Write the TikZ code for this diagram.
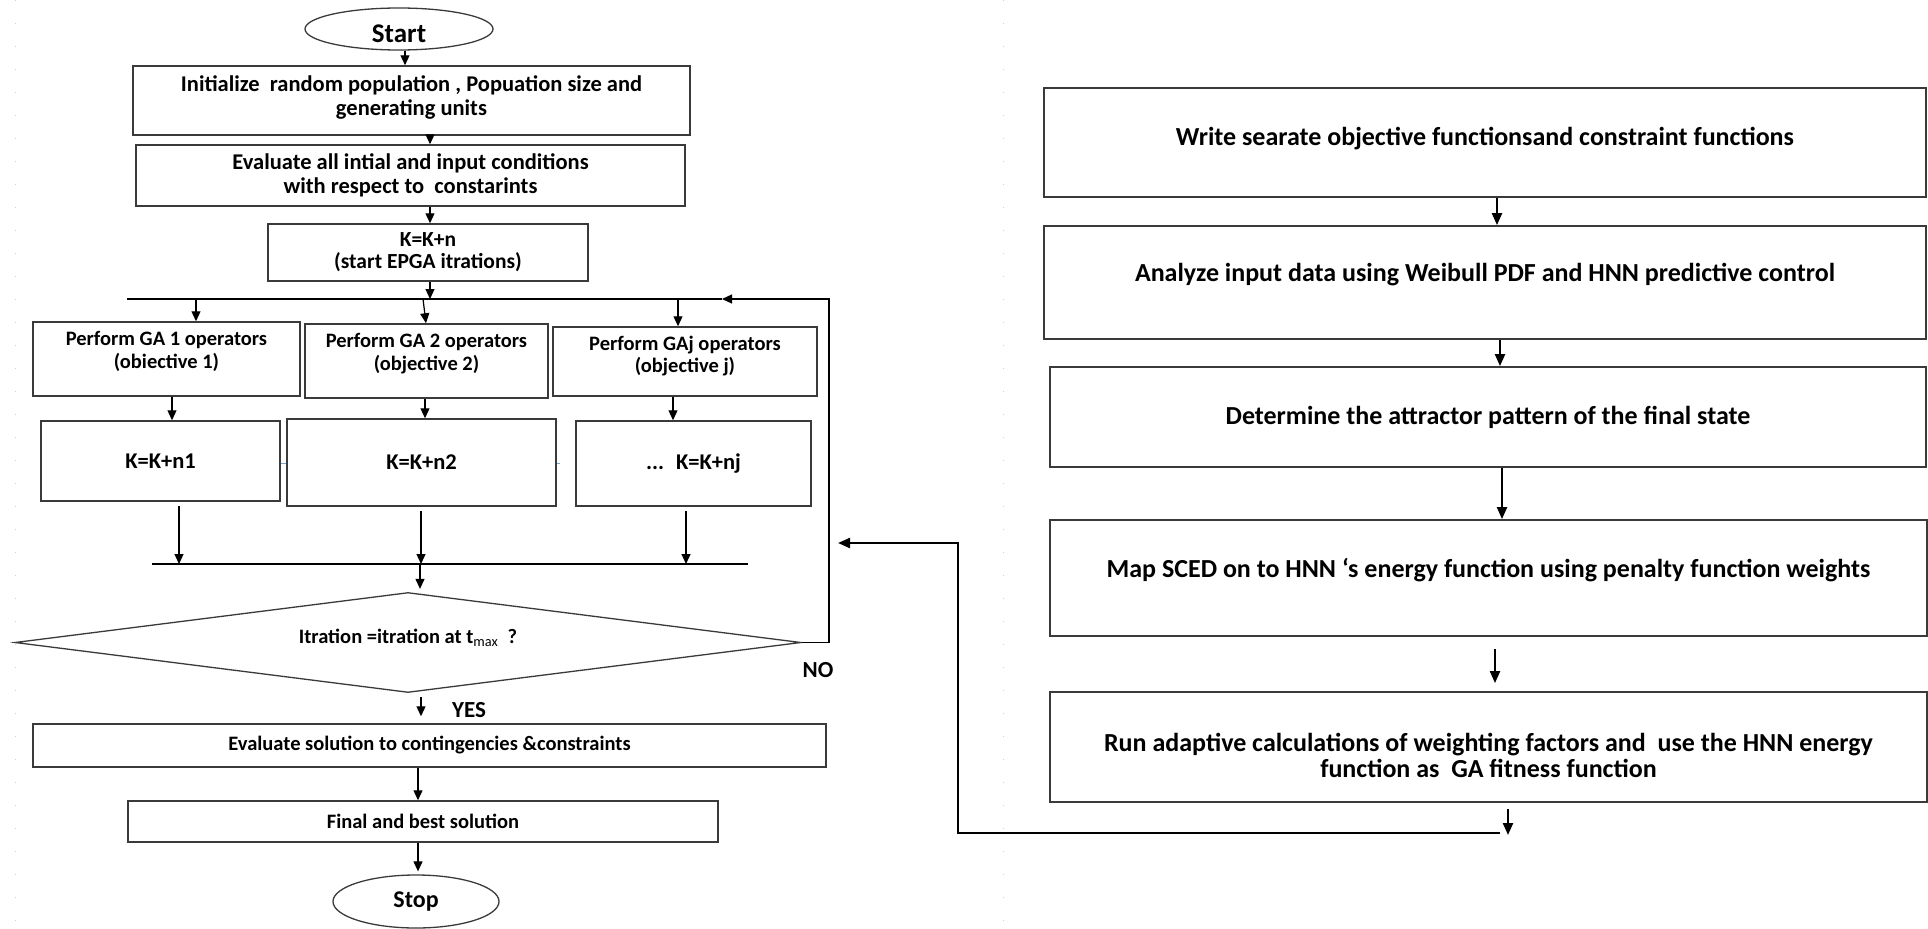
\documentclass[tikz,border=0pt]{standalone}
\usepackage{fontspec}
\setmainfont{Carlito}
\usetikzlibrary{arrows.meta,shapes.geometric}
\definecolor{boxgray}{HTML}{3A3A3A}
\definecolor{faintgray}{HTML}{D0D0D0}
\definecolor{lblue}{HTML}{6FA8DC}
\begin{document}
\begin{tikzpicture}[x=1pt,y=-1pt,
  lbox/.style={draw=boxgray, line width=1.5pt, inner sep=0pt, align=center,
    font=\bfseries\fontsize{22.5}{24}\selectfont},
  gbox/.style={lbox, font=\bfseries\fontsize{20.5}{22.7}\selectfont},
  rbox/.style={draw=boxgray, line width=1.8pt, inner sep=0pt, align=center,
    font=\bfseries\fontsize{26}{25.5}\selectfont},
  gtxt/.style={align=center, inner sep=0pt, font=\bfseries\fontsize{20.5}{22.7}\selectfont},
  rtxt/.style={align=center, inner sep=0pt, font=\bfseries\fontsize{26}{25.5}\selectfont},
  oval/.style={ellipse, draw=boxgray, line width=1.3pt, inner sep=0pt},
  arr/.style={-{Triangle[length=10pt,width=9pt]}, line width=1.2pt},
  rarr/.style={-{Triangle[length=12pt,width=10pt]}, line width=2.2pt},
  plain/.style={line width=1.3pt},
  lbl/.style={inner sep=0pt, font=\bfseries\fontsize{23}{25}\selectfont},
  faintline/.style={faintgray, line width=0.8pt, dash pattern=on 1pt off 22pt}
]
\useasboundingbox (0,0) rectangle (1928,929);

% faint page guides
\draw[faintline] (1003,0) -- (1003,929);
\draw[faintline] (15,0) -- (15,929);

% ---------------- left flowchart ----------------
\node[oval, minimum width=188pt, minimum height=42pt,
  label={[inner sep=0pt, font=\bfseries\fontsize{27}{30}\selectfont, yshift=-5pt]center:Start}]
  (start) at (399,29) {};

\node[lbox, minimum width=557pt, minimum height=69pt,
  label={[align=center, inner sep=0pt, font=\bfseries\fontsize{22.5}{24}\selectfont, yshift=3pt]center:{Initialize~ random population , Popuation size and\\generating units}}]
  (b1) at (411.5,100.5) {};
\node[lbox, minimum width=549pt, minimum height=61pt] (b2) at (410.5,175.5)
  {Evaluate all intial and input conditions\\with respect to~ constarints};
\node[lbox, font=\bfseries\fontsize{21.5}{22}\selectfont,
  minimum width=320pt, minimum height=57pt] (b3) at (428,252.5)
  {K=K+n\\(start EPGA itrations)};

\coordinate (bus1L) at (127,299);
\coordinate (bus1R) at (722,299);

\node[gbox, minimum width=267pt, minimum height=74pt,
  label={[gtxt, yshift=7.5pt]center:{Perform GA 1 operators\\(obiective 1)}}]
  (ga1) at (166.5,359) {};
\node[gbox, minimum width=243pt, minimum height=74pt,
  label={[gtxt, yshift=7.5pt]center:{Perform GA 2 operators\\(objective 2)}}]
  (ga2) at (426.5,361) {};
\node[gbox, minimum width=264pt, minimum height=69pt,
  label={[gtxt, yshift=5.5pt]center:{Perform GAj operators\\(objective j)}}]
  (gaj) at (685,361.5) {};

\node[lbox, minimum width=239pt, minimum height=80pt] (k1) at (160.5,461) {K=K+n1};
\node[lbox, minimum width=269pt, minimum height=87pt] (k2) at (421.5,462.5) {K=K+n2};
\node[lbox, minimum width=235pt, minimum height=85pt] (kj) at (693.5,463.5) {...~ K=K+nj};

\coordinate (bus2L) at (152,564);
\coordinate (bus2R) at (748,564);

\node[diamond, draw=boxgray, line width=1.3pt, inner sep=0pt, aspect=7.86,
  minimum width=786pt, minimum height=100pt,
  label={[inner sep=0pt, font=\bfseries\fontsize{20.5}{22}\selectfont, yshift=5pt]center:{Itration =itration at t\textsubscript{\mdseries max}~ ?}}]
  (dia) at (408,642.5) {};

\node[lbl] (no) at (818,670) {NO};
\node[lbl] (yes) at (469,710) {YES};

\node[gbox, minimum width=793pt, minimum height=43pt] (ev) at (429.5,745.5)
  {Evaluate solution to contingencies \&constraints};
\node[gbox, minimum width=590pt, minimum height=41pt] (fin) at (423,821.5)
  {Final and best solution};

\node[oval, minimum width=166pt, minimum height=53pt,
  font=\bfseries\fontsize{24}{26}\selectfont] (stop) at (416,901.5) {Stop};

% left connectors
\draw[arr] (start.south -| 405,0) -- (b1.north -| 405,0);
\draw[arr] (b1.south -| 430,0) -- (b2.north -| 430,0);
\draw[arr] (b2.south -| 430,0) -- (b3.north -| 430,0);
\draw[arr] (b3.south -| 430,0) -- (bus1L -| 430,0);
\draw[plain] (bus1L) -- (bus1R);
\draw[arr] (bus1L -| 196,0) -- (ga1.north -| 196,0);
\draw[arr] (bus1L -| 423,0) -- (ga2.north -| 426,0);
\draw[arr] (bus1L -| 678,0) -- (gaj.north -| 678,0);
\draw[arr] (ga1.south -| 172,0) -- (k1.north -| 172,0);
\draw[arr] (ga2.south -| 425,0) -- (k2.north -| 425,0);
\draw[arr] (gaj.south -| 673,0) -- (kj.north -| 673,0);
\draw[lblue, line width=1pt] (k1.east |- 0,463) -- (k2.west |- 0,463);
\draw[lblue, line width=1pt] (k2.east |- 0,463) -- ++(3,0);
\draw[plain] (bus2L) -- (bus2R);
\draw[arr, shorten <=4pt] (k1.south -| 179,0) -- (bus2L -| 179,0);
\draw[arr, shorten <=4pt] (k2.south -| 421,0) -- (bus2L -| 421,0);
\draw[arr, shorten <=4pt] (kj.south -| 686,0) -- (bus2L -| 686,0);
\draw[arr, shorten >=3pt] (bus2L -| 420,0) -- (dia.north -| 420,0);
\draw[arr] (dia.east) -- (829,642.5) |- (bus1R);
\draw[arr, shorten <=4pt, shorten >=7pt] (dia.south -| 421,0) -- (ev.north -| 421,0);
\draw[arr] (ev.south -| 418,0) -- (fin.north -| 418,0);
\draw[arr, shorten >=3pt] (fin.south -| 418,0) -- (stop.north -| 418,0);

% ---------------- right flowchart ----------------
\node[rbox, minimum width=882pt, minimum height=109pt,
  label={[rtxt, yshift=4pt]center:{Write searate objective functionsand constraint functions}}]
  (r1) at (1485,142.5) {};
\node[rbox, minimum width=882pt, minimum height=113pt,
  label={[rtxt, yshift=7.5pt]center:{Analyze input data using Weibull PDF and HNN predictive control}}]
  (r2) at (1485,282.5) {};
\node[rbox, minimum width=876pt, minimum height=100pt] (r3) at (1488,417)
  {Determine the attractor pattern of the final state};
\node[rbox, minimum width=877pt, minimum height=116pt,
  label={[rtxt, yshift=8pt]center:{Map SCED on to HNN `s energy function using penalty function weights}}]
  (r4) at (1488.5,578) {};
\node[rbox, minimum width=877pt, minimum height=110pt,
  label={[rtxt, yshift=-8.5pt]center:{Run adaptive calculations of weighting factors and~ use the HNN energy\\function as~ GA fitness function}}]
  (r5) at (1488.5,747) {};

\coordinate (rend) at (1508,835);
\coordinate (loopA) at (1500,833);
\coordinate (loopC) at (958,543);
\coordinate (fbtip) at (838,543);

\draw[rarr] (r1.south -| 1497,0) -- (r2.north -| 1497,0);
\draw[rarr] (r2.south -| 1500,0) -- (r3.north -| 1500,0);
\draw[rarr] (r3.south -| 1502,0) -- (r4.north -| 1502,0);
\draw[rarr, shorten <=12pt, shorten >=8pt] (r4.south -| 1495,0) -- (r5.north -| 1495,0);
\draw[rarr, shorten <=6pt] (r5.south -| 1508,0) -- (rend);
\draw[rarr] (loopA) -| (loopC) -- (fbtip);

\end{tikzpicture}
\end{document}
